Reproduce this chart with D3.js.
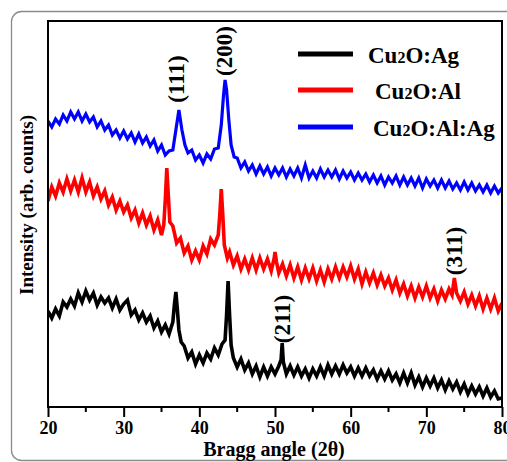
<!DOCTYPE html>
<html><head><meta charset="utf-8">
<script src="https://cdn.jsdelivr.net/npm/d3@7"></script>
<style>html,body{margin:0;padding:0;background:#fff;overflow:hidden}</style>
</head><body>
<svg id="c" width="507" height="462"></svg>
<script>
// ---- data (intensity in arbitrary counts) ----
const xTicks = [20, 30, 40, 50, 60, 70, 80];
const xMinorTicks = [25, 35, 45, 55, 65, 75];
const seriesNames = ["Cu\u2082O:Ag", "Cu\u2082O:Al", "Cu\u2082O:Al:Ag"];
const seriesColors = ["#000000", "#ff0000", "#0000ff"];

const agAngle = [20,20.5,21,21.5,22,22.5,23,23.5,24,24.5,25,25.5,26,26.5,27,27.5,28,28.5,29,29.5,30,30.5,31,31.5,32,32.5,33,33.5,34,34.5,35,35.5,36,36.5,36.7,36.9,37.1,37.3,37.6,38,38.5,39,39.5,40,40.5,41,41.5,42,42.5,43,43.4,43.6,43.8,44,44.2,44.5,45,45.5,46,46.5,47,47.5,48,48.5,49,49.5,50,50.5,50.8,50.95,51.1,51.5,52,52.5,53,53.5,54,54.5,55,55.5,56,56.5,57,57.5,58,58.5,59,59.5,60,60.5,61,61.5,62,62.5,63,63.5,64,64.5,65,65.5,66,66.5,67,67.5,68,68.5,69,69.5,70,70.5,71,71.5,72,72.5,73,73.5,74,74.5,75,75.5,76,76.5,77,77.5,78,78.5,79,79.5,80];
const agCounts = [96,89,98,91,105,100,108,101,114,105,116,107,114,102,110,104,109,99,108,97,103,107,92,97,87,94,85,91,79,86,75,82,73,85,102,115,97,77,65,61,49,55,43,52,44,54,48,59,52,63,67,92,126,92,62,49,40,48,37,44,33,41,30,40,31,40,33,41,47,64,45,33,41,32,40,31,38,29,38,31,40,31,42,33,41,33,42,34,40,31,39,31,39,31,37,28,36,28,36,27,33,24,34,24,34,22,30,20,29,21,29,19,27,17,26,18,25,15,23,13,21,13,20,11,19,10,16,8,9];

const alAngle = [20,20.5,21,21.5,22,22.5,23,23.5,24,24.5,25,25.5,26,26.5,27,27.5,28,28.5,29,29.5,30,30.5,31,31.5,32,32.5,33,33.5,34,34.5,35,35.3,35.5,35.7,35.9,36.1,36.5,37,37.5,38,38.5,39,39.5,40,40.5,41,41.5,42,42.5,42.7,42.9,43.1,43.3,43.7,44,44.5,45,45.5,46,46.5,47,47.5,48,48.5,49,49.5,49.9,50,50.2,50.5,51,51.5,52,52.5,53,53.5,54,54.5,55,55.5,56,56.5,57,57.5,58,58.5,59,59.5,60,60.5,61,61.5,62,62.5,63,63.5,64,64.5,65,65.5,66,66.5,67,67.5,68,68.5,69,69.5,70,70.5,71,71.5,72,72.5,73,73.4,73.7,74,74.5,75,75.5,76,76.5,77,77.5,78,78.5,79,79.5,80];
const alCounts = [206,220,211,224,215,228,216,227,215,229,215,225,211,220,208,216,202,210,197,206,195,202,189,197,184,194,182,191,177,187,172,182,207,239,212,185,181,164,169,154,161,147,156,147,161,153,168,162,172,192,218,192,162,149,155,142,151,138,148,137,149,137,149,138,148,136,149,155,145,134,143,131,142,129,140,127,139,128,139,126,137,125,138,128,140,129,140,130,141,128,138,123,135,124,134,122,132,121,129,117,127,114,123,111,121,109,120,110,121,109,118,106,117,108,118,112,129,114,106,115,103,112,101,111,98,109,98,109,96,104];

const alagAngle = [20,20.5,21,21.5,22,22.5,23,23.5,24,24.5,25,25.5,26,26.5,27,27.5,28,28.5,29,29.5,30,30.5,31,31.5,32,32.5,33,33.5,34,34.5,35,35.5,36,36.5,36.9,37.3,37.7,38.1,38.5,39,39.5,40,40.5,41,41.5,42,42.5,42.9,43.2,43.4,43.6,43.9,44.2,44.6,45,45.5,46,46.5,47,47.5,48,48.5,49,49.5,50,50.5,51,51.5,52,52.5,53,53.5,54,54.5,55,55.5,56,56.5,57,57.5,58,58.5,59,59.5,60,60.5,61,61.5,62,62.5,63,63.5,64,64.5,65,65.5,66,66.5,67,67.5,68,68.5,69,69.5,70,70.5,71,71.5,72,72.5,73,73.5,74,74.5,75,75.5,76,76.5,77,77.5,78,78.5,79,79.5,80];
const alagCounts = [286,280,288,283,292,286,295,288,295,286,293,285,290,280,286,277,282,272,277,269,276,268,274,265,273,264,270,261,267,256,262,252,256,257,277,297,277,262,254,257,247,252,244,253,248,258,259,282,312,327,317,287,262,250,249,239,245,236,242,233,241,233,240,231,239,232,239,230,238,231,239,229,242,229,236,229,238,230,237,230,237,228,236,229,235,227,234,227,233,225,232,224,231,222,230,224,231,222,230,222,229,221,229,219,228,221,227,219,227,219,226,218,224,217,225,217,224,216,222,215,222,214,221,214,219];

const peakLabels = ["(111)", "(200)", "(211)", "(311)"];
const peakAngles = [37.0, 43.3, 50.95, 73.7];
const peakLabelCounts = [328, 356, 88, 156];

// ---- layout ----
const svg = d3.select("#c");
const M = {left: 48, right: 502, top: 21, bottom: 407};
const x = d3.scaleLinear().domain([20, 80]).range([M.left, M.right]);
const y = d3.scaleLinear().domain([0, 386]).range([M.bottom, M.top]);
const serif = "Liberation Serif, Times New Roman, serif";

// outer rounded frame
svg.append("rect").attr("x", 11.5).attr("y", 11.5).attr("width", 530).attr("height", 449)
  .attr("rx", 10).attr("fill", "none").attr("stroke", "#8a8a8a").attr("stroke-width", 1.3);

svg.append("clipPath").attr("id", "pc").append("rect")
  .attr("x", M.left).attr("y", M.top).attr("width", M.right - M.left).attr("height", M.bottom - M.top);

const series = [
  {angle: agAngle, counts: agCounts, w: 3.6},
  {angle: alAngle, counts: alCounts, w: 3.6},
  {angle: alagAngle, counts: alagCounts, w: 3.2}
];
const line = d3.line().x(d => x(d[0])).y(d => y(d[1]));
const g = svg.append("g").attr("clip-path", "url(#pc)");
series.forEach((s, i) => {
  const pts = s.angle.map((a, k) => [a, s.counts[k]]);
  g.append("path").attr("d", line(pts)).attr("fill", "none")
    .attr("stroke", seriesColors[i]).attr("stroke-width", s.w).attr("stroke-linejoin", "miter");
});

// plot frame
svg.append("rect").attr("x", M.left).attr("y", M.top).attr("width", M.right - M.left)
  .attr("height", M.bottom - M.top).attr("fill", "none").attr("stroke", "#000").attr("stroke-width", 2);

// x axis
const ax = svg.append("g").attr("transform", `translate(0,${M.bottom})`)
  .call(d3.axisBottom(x).tickValues(xTicks).tickSize(10).tickFormat(d3.format("d")));
ax.select(".domain").remove();
ax.selectAll(".tick line").attr("stroke", "#000").attr("stroke-width", 2);
ax.selectAll(".tick text").attr("y", 14).attr("font-family", serif).attr("font-weight", "bold")
  .attr("font-size", 18).attr("fill", "#000");
svg.append("g").attr("transform", `translate(0,${M.bottom})`)
  .selectAll("line").data(xMinorTicks).join("line")
  .attr("x1", d => x(d)).attr("x2", d => x(d)).attr("y1", 0).attr("y2", 5)
  .attr("stroke", "#000").attr("stroke-width", 2);

// axis titles
svg.append("text").attr("x", 274).attr("y", 456).attr("text-anchor", "middle")
  .attr("font-family", serif).attr("font-weight", "bold").attr("font-size", 20).text("Bragg angle (2\u03b8)");
svg.append("text").attr("transform", "translate(33,205) rotate(-90)").attr("text-anchor", "middle")
  .attr("font-family", serif).attr("font-weight", "bold").attr("font-size", 19).text("Intensity (arb. counts)");

// peak labels
peakLabels.forEach((t, i) => {
  svg.append("text").attr("transform", `translate(${x(peakAngles[i])},${y(peakLabelCounts[i])}) rotate(-90)`)
    .attr("text-anchor", "middle").attr("dominant-baseline", "central")
    .attr("font-family", serif).attr("font-weight", "bold").attr("font-size", 23).text(t);
});

// legend
const legY = [54, 90, 127];
const legTextX = [368, 375, 373];
const leg = svg.append("g");
seriesNames.forEach((n, i) => {
  leg.append("line").attr("x1", 298).attr("x2", 353).attr("y1", legY[i]).attr("y2", legY[i])
    .attr("stroke", seriesColors[i]).attr("stroke-width", 5);
  const t = leg.append("text").attr("x", legTextX[i]).attr("y", legY[i] + 9)
    .attr("font-family", serif).attr("font-weight", "bold").attr("font-size", 23);
  const parts = n.split("\u2082");
  t.append("tspan").text(parts[0]);
  t.append("tspan").attr("font-size", 16).text("2");
  t.append("tspan").text(parts[1]);
});
</script>
</body></html>
